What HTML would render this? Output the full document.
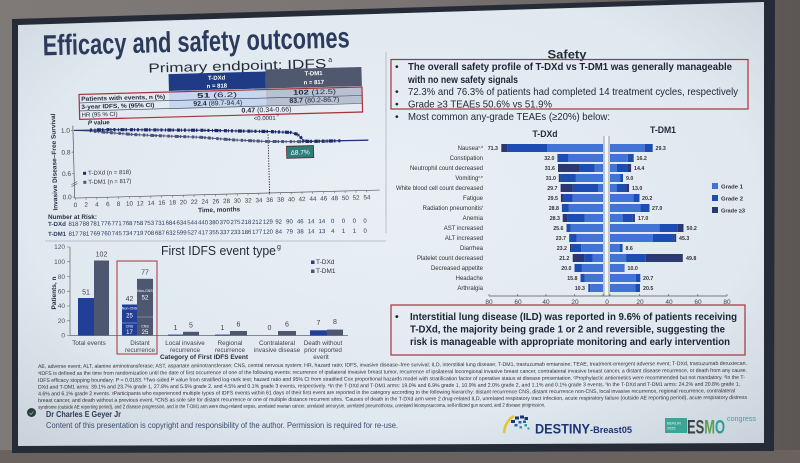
<!DOCTYPE html>
<html><head><meta charset="utf-8"><style>
html,body{margin:0;padding:0;width:800px;height:463px;overflow:hidden;background:#77716f;}
svg{display:block;font-family:"Liberation Sans",Arial,sans-serif;}
</style></head><body>
<svg width="800" height="463" viewBox="0 0 800 463" xmlns="http://www.w3.org/2000/svg">
<defs>
<radialGradient id="bg" cx="0.5" cy="0.45" r="0.75">
<stop offset="0" stop-color="#e9eff5"/><stop offset="0.65" stop-color="#e0e8f0"/><stop offset="1" stop-color="#c8d0d9"/>
</radialGradient>
<linearGradient id="wall" x1="0" y1="0" x2="1" y2="0"><stop offset="0" stop-color="#7f7977"/><stop offset="0.5" stop-color="#7a7473"/><stop offset="1" stop-color="#5c5654"/></linearGradient>
</defs>
<rect width="800" height="463" fill="url(#wall)"/>
<rect x="0" y="450" width="800" height="13" fill="#6a625e"/>
<polygon points="12,19 775,-3 774,451 12,453" fill="#262b38"/>
<polygon points="18,25 764,2 764,443 18,446" fill="url(#bg)"/>

<line x1="386" y1="52" x2="386" y2="233" stroke="#a9b2bc" stroke-width="0.8"/>
<line x1="45" y1="241" x2="386" y2="241" stroke="#a9b2bc" stroke-width="0.8"/>

<g transform="rotate(-1.5 210 130)">
<text x="45" y="51" font-size="29" font-weight="bold" fill="#2c3a5c" textLength="307" lengthAdjust="spacingAndGlyphs">Efficacy and safety outcomes</text>
<text x="150" y="71" font-size="13" fill="#262d3a" textLength="178" lengthAdjust="spacingAndGlyphs">Primary endpoint: IDFS</text>
<text x="330" y="65" font-size="7" fill="#262d3a">a</text>

<rect x="170" y="73" width="97" height="17" fill="#1f3b85"/>
<rect x="267" y="71" width="96" height="19" fill="#4f586f"/>
<rect x="170" y="90" width="97" height="18" fill="#c6d6ee"/>
<rect x="267" y="90" width="96" height="17" fill="#b7c1d2"/>
<g font-size="6" font-weight="bold" fill="#ffffff" text-anchor="middle">
<text x="218" y="80">T-DXd</text><text x="218" y="88">n = 818</text>
<text x="315" y="78">T-DM1</text><text x="315" y="87">n = 817</text>
</g>
<line x1="80" y1="99.5" x2="363" y2="99.5" stroke="#3a4050" stroke-width="0.6"/>
<line x1="80" y1="107.5" x2="363" y2="107.5" stroke="#3a4050" stroke-width="0.6"/>
<rect x="80" y="91" width="283" height="25" fill="none" stroke="#a8323c" stroke-width="1.2"/>
<g font-size="6" fill="#222a3a">
<text x="82" y="97.5" font-weight="bold" textLength="84" lengthAdjust="spacingAndGlyphs">Patients with events, n (%)</text>
<text x="82" y="105.5" font-weight="bold" textLength="73" lengthAdjust="spacingAndGlyphs">3-year IDFS, % (95% CI)</text>
<text x="82" y="113.5" textLength="36" lengthAdjust="spacingAndGlyphs">HR (95 % CI)</text>
</g>
<g font-size="6.8" fill="#222a3a">
<text x="198" y="97.5" textLength="40" lengthAdjust="spacingAndGlyphs"><tspan font-weight="bold">51</tspan> (6.2)</text>
<text x="294" y="97" textLength="43" lengthAdjust="spacingAndGlyphs"><tspan font-weight="bold">102</tspan> (12.5)</text>
<text x="194" y="105.5" textLength="49" lengthAdjust="spacingAndGlyphs"><tspan font-weight="bold">92.4</tspan> (89.7-94.4)</text>
<text x="290" y="105" textLength="50" lengthAdjust="spacingAndGlyphs"><tspan font-weight="bold">83.7</tspan> (80.2-86.7)</text>
<text x="242" y="113.5" textLength="50" lengthAdjust="spacingAndGlyphs"><tspan font-weight="bold">0.47</tspan> (0.34-0.66)</text>
</g>
<g font-size="6" fill="#222a3a">
<text x="88" y="121.5" font-weight="bold" textLength="22" lengthAdjust="spacingAndGlyphs"><tspan font-style="italic">P</tspan> value</text>
<text x="254" y="121.5" textLength="22" lengthAdjust="spacingAndGlyphs">&lt;0.0001</text>
<text x="277" y="118" font-size="4">b</text>
</g>

<line x1="73" y1="122" x2="73" y2="194.5" stroke="#555" stroke-width="0.7"/>
<line x1="73" y1="194.5" x2="378" y2="194.5" stroke="#555" stroke-width="0.7"/>
<g stroke="#555" stroke-width="0.6">
<line x1="71" y1="126.8" x2="73" y2="126.8"/><line x1="71" y1="148.5" x2="73" y2="148.5"/><line x1="71" y1="170" x2="73" y2="170"/><line x1="71" y1="193.5" x2="73" y2="193.5"/>
<line x1="70" y1="181" x2="76" y2="178"/><line x1="70" y1="183" x2="76" y2="180"/>
</g>
<g font-size="6.5" fill="#444" text-anchor="end">
<text x="70" y="129">1.0</text><text x="70" y="150.7">0.8</text><text x="70" y="172.2">0.6</text><text x="70" y="195.5">0.0</text>
</g>
<g stroke="#555" stroke-width="0.5">
<path d="M73.5,194.5v2M84.3,194.5v2M95.1,194.5v2M105.9,194.5v2M116.7,194.5v2M127.5,194.5v2M138.3,194.5v2M149.1,194.5v2M159.9,194.5v2M170.7,194.5v2M181.5,194.5v2M192.3,194.5v2M203.1,194.5v2M213.9,194.5v2M224.7,194.5v2M235.5,194.5v2M246.3,194.5v2M257.1,194.5v2M267.9,194.5v2M278.7,194.5v2M289.5,194.5v2M300.3,194.5v2M311.1,194.5v2M321.9,194.5v2M332.7,194.5v2M343.5,194.5v2M354.3,194.5v2M365.1,194.5v2"/>
</g>
<g font-size="6.3" fill="#444" text-anchor="middle">
<text x="73.5" y="203.5">0</text><text x="84.3" y="203.5">2</text><text x="95.1" y="203.5">4</text><text x="105.9" y="203.5">6</text><text x="116.7" y="203.5">8</text><text x="127.5" y="203.5">10</text><text x="138.3" y="203.5">12</text><text x="149.1" y="203.5">14</text><text x="159.9" y="203.5">16</text><text x="170.7" y="203.5">18</text><text x="181.5" y="203.5">20</text><text x="192.3" y="203.5">22</text><text x="203.1" y="203.5">24</text><text x="213.9" y="203.5">26</text><text x="224.7" y="203.5">28</text><text x="235.5" y="203.5">30</text><text x="246.3" y="203.5">32</text><text x="257.1" y="203.5">34</text><text x="267.9" y="203.5">36</text><text x="278.7" y="203.5">38</text><text x="289.5" y="203.5">40</text><text x="300.3" y="203.5">42</text><text x="311.1" y="203.5">44</text><text x="321.9" y="203.5">46</text><text x="332.7" y="203.5">48</text><text x="343.5" y="203.5">50</text><text x="354.3" y="203.5">52</text><text x="365.1" y="203.5">54</text>
</g>
<text x="217" y="212" font-size="6.5" font-weight="bold" fill="#2a3142" text-anchor="middle" textLength="42" lengthAdjust="spacingAndGlyphs">Time, months</text>
<text transform="translate(55.5 158) rotate(-90)" font-size="6.3" font-weight="bold" fill="#2a3142" text-anchor="middle" textLength="97" lengthAdjust="spacingAndGlyphs">Invasive Disease–Free Survival</text>

<line x1="267.9" y1="136" x2="267.9" y2="194.5" stroke="#222" stroke-width="0.9" stroke-dasharray="1.3 1.3"/>

<path d="M74,126.8 L90,127.8 L110,130 L133,132.5 L160,134.5 L200,137 L233,140.5 L267,143 L300,144 L368,144.5" fill="none" stroke="#4c5478" stroke-width="1"/>
<path d="M74,126.8 L110,127 L150,128.3 L200,130 L240,131.8 L267,133 L290,134.5 L297,136.5 L300,139 L303,143 L308,144 L368,144.2" fill="none" stroke="#1c2a6a" stroke-width="1"/>
<path d="M90,127.8 L110,130 L133,132.5 L160,134.5 L200,137 L233,140.5 L267,143 L300,144 L335,144.3" fill="none" stroke="#4c5478" stroke-width="3" stroke-dasharray="1 3 2.5 1.5 1 2.5 4 1 1.5 2 3 1.5"/>
<path d="M90,126.9 L110,127 L150,128.3 L200,130 L240,131.8 L267,133 L290,134.5 L297,136.5 L300,139 L303,143 L308,144 L340,144.2" fill="none" stroke="#1c2a6a" stroke-width="3.2" stroke-dasharray="2 2.5 1 1.5 4 1 1.5 3 3 1 1 2"/>

<rect x="286" y="148.3" width="27" height="12" fill="#2d7f7c" stroke="#5a2a2a" stroke-width="0.8"/>
<text x="299.5" y="156.8" font-size="6.5" fill="#ffffff" text-anchor="middle">Δ8.7%</text>

<rect x="82" y="168.5" width="3" height="3" fill="#1c2a6a"/>
<text x="87" y="171.8" font-size="6" fill="#333" textLength="43" lengthAdjust="spacingAndGlyphs">T-DXd (n = 818)</text>
<rect x="82" y="177.5" width="3" height="3" fill="#4c5478"/>
<text x="87" y="180.8" font-size="6" fill="#333" textLength="43" lengthAdjust="spacingAndGlyphs">T-DM1 (n = 817)</text>
</g>

<text x="48" y="219" font-size="6.5" font-weight="bold" fill="#2a3142" textLength="49" lengthAdjust="spacingAndGlyphs">Number at Risk:</text>
<g transform="rotate(-0.6 48 226)" font-size="6" fill="#2b3a5c">
<text x="48" y="226" font-weight="bold" textLength="18" lengthAdjust="spacingAndGlyphs">T-DXd</text>
<g text-anchor="middle">
<text x="73.5" y="226">818</text><text x="84.3" y="226">788</text><text x="95.1" y="226">781</text><text x="105.9" y="226">776</text><text x="116.7" y="226">771</text><text x="127.5" y="226">768</text><text x="138.3" y="226">758</text><text x="149.1" y="226">753</text><text x="159.9" y="226">731</text><text x="170.7" y="226">684</text><text x="181.5" y="226">634</text><text x="192.3" y="226">544</text><text x="203.1" y="226">440</text><text x="213.9" y="226">380</text><text x="224.7" y="226">370</text><text x="235.5" y="226">275</text><text x="246.3" y="226">218</text><text x="257.1" y="226">212</text><text x="267.9" y="226">129</text><text x="278.7" y="226">92</text><text x="289.5" y="226">90</text><text x="300.3" y="226">46</text><text x="311.1" y="226">14</text><text x="321.9" y="226">14</text><text x="332.7" y="226">0</text><text x="343.5" y="226">0</text><text x="354.3" y="226">0</text><text x="365.1" y="226">0</text>
</g>
<text x="48" y="236" font-weight="bold" textLength="18" lengthAdjust="spacingAndGlyphs">T-DM1</text>
<g text-anchor="middle">
<text x="73.5" y="236">817</text><text x="84.3" y="236">781</text><text x="95.1" y="236">769</text><text x="105.9" y="236">760</text><text x="116.7" y="236">745</text><text x="127.5" y="236">734</text><text x="138.3" y="236">719</text><text x="149.1" y="236">708</text><text x="159.9" y="236">687</text><text x="170.7" y="236">632</text><text x="181.5" y="236">599</text><text x="192.3" y="236">527</text><text x="203.1" y="236">417</text><text x="213.9" y="236">355</text><text x="224.7" y="236">337</text><text x="235.5" y="236">233</text><text x="246.3" y="236">186</text><text x="257.1" y="236">177</text><text x="267.9" y="236">120</text><text x="278.7" y="236">84</text><text x="289.5" y="236">79</text><text x="300.3" y="236">38</text><text x="311.1" y="236">14</text><text x="321.9" y="236">13</text><text x="332.7" y="236">4</text><text x="343.5" y="236">1</text><text x="354.3" y="236">1</text><text x="365.1" y="236">0</text>
</g>
</g>

<text x="161" y="255" font-size="13" fill="#262d3a" textLength="115" lengthAdjust="spacingAndGlyphs">First IDFS event type</text>
<text x="277" y="249" font-size="7" fill="#262d3a">g</text>
<line x1="70" y1="247" x2="70" y2="335.5" stroke="#666" stroke-width="0.7"/>
<line x1="70" y1="335.5" x2="348" y2="335.5" stroke="#666" stroke-width="0.7"/>
<g stroke="#666" stroke-width="0.6">
<path d="M67,247h3M67,261.8h3M67,276.5h3M67,291.2h3M67,306h3M67,320.8h3M67,335.5h3"/>
</g>
<g font-size="6.5" fill="#555" text-anchor="end">
<text x="65" y="249">120</text><text x="65" y="264">100</text><text x="65" y="279">80</text><text x="65" y="293.5">60</text><text x="65" y="308.2">40</text><text x="65" y="323">20</text><text x="65" y="337.5">0</text>
</g>
<text transform="translate(56 293) rotate(-90)" font-size="6.3" font-weight="bold" fill="#2a3142" text-anchor="middle" textLength="33" lengthAdjust="spacingAndGlyphs">Patients, n</text>

<g fill="#213f96">
<rect x="78" y="298" width="16" height="37.5"/>
<rect x="122" y="304.5" width="15" height="31"/>
<rect x="168" y="334.6" width="15" height="0.9"/>
<rect x="215" y="334.6" width="15" height="0.9"/>
<rect x="310" y="330.3" width="17" height="5.2"/>
</g>
<g fill="#4e5770">
<rect x="94" y="260.5" width="15" height="75"/>
<rect x="137" y="278.8" width="16" height="56.7"/>
<rect x="183" y="331.8" width="16" height="3.7"/>
<rect x="230" y="331" width="17" height="4.5"/>
<rect x="278" y="331" width="18" height="4.5"/>
<rect x="327" y="329.6" width="16" height="5.9"/>
</g>
<line x1="122" y1="323" x2="137" y2="323" stroke="#9fb3e0" stroke-width="0.6"/>
<line x1="137" y1="317" x2="153" y2="317" stroke="#9aa3b8" stroke-width="0.6"/>
<g fill="#ffffff" text-anchor="middle">
<text x="129.5" y="309.5" font-size="3.6">Non-CNS</text><text x="129.5" y="317.5" font-size="6">25</text>
<text x="129.5" y="327.5" font-size="3.6">CNS</text><text x="129.5" y="334" font-size="6">17</text>
<text x="145" y="292" font-size="3.6">Non-CNS</text><text x="145" y="299.5" font-size="6">52</text>
<text x="145" y="327.5" font-size="3.6">CNS</text><text x="145" y="334" font-size="6">25</text>
</g>
<rect x="117" y="261" width="40" height="93" fill="none" stroke="#a8323c" stroke-width="1"/>
<g font-size="7" fill="#444" text-anchor="middle">
<text x="86" y="294.5">51</text><text x="101.5" y="256.5">102</text>
<text x="129.5" y="301">42</text><text x="145" y="274.5">77</text>
<text x="175.5" y="330">1</text><text x="191" y="327.5">5</text>
<text x="222.5" y="330">1</text><text x="238.5" y="326.5">6</text>
<text x="269.5" y="330">0</text><text x="287" y="326.5">6</text>
<text x="318.5" y="325">7</text><text x="335" y="324">8</text>
</g>
<g font-size="6.3" fill="#444" text-anchor="middle">
<text x="89" y="345">Total events</text>
<text x="140" y="345">Distant</text><text x="140" y="352">recurrence</text>
<text x="185" y="345">Local invasive</text><text x="185" y="352">recurrence</text>
<text x="230" y="345">Regional</text><text x="230" y="352">recurrence</text>
<text x="277" y="345">Contralateral</text><text x="277" y="352">invasive disease</text>
<text x="323" y="345">Death without</text><text x="323" y="352">prior reported</text><text x="321" y="359">event</text>
</g>
<text x="326" y="356" font-size="3.5" fill="#444">i</text>
<text x="204" y="359" font-size="6.5" font-weight="bold" fill="#2a3142" text-anchor="middle" textLength="88" lengthAdjust="spacingAndGlyphs">Category of First IDFS Event</text>
<rect x="311" y="260.5" width="3.5" height="3.5" fill="#213f96"/>
<text x="316" y="264" font-size="6.5" fill="#333">T-DXd</text>
<rect x="311" y="269.5" width="3.5" height="3.5" fill="#4e5770"/>
<text x="316" y="273" font-size="6.5" fill="#333">T-DM1</text>

<text x="567" y="58.5" font-size="11.5" font-weight="bold" fill="#262d3a" text-anchor="middle" textLength="39" lengthAdjust="spacingAndGlyphs">Safety</text>
<rect x="391" y="59.5" width="357" height="49.5" fill="none" stroke="#a8323c" stroke-width="1.2"/>
<g font-size="10.5" fill="#1f2535">
<text x="395" y="70">•</text>
<text x="408" y="70" font-weight="bold" textLength="324" lengthAdjust="spacingAndGlyphs">The overall safety profile of T-DXd vs T-DM1 was generally manageable</text>
<text x="408" y="83" font-weight="bold" textLength="110" lengthAdjust="spacingAndGlyphs">with no new safety signals</text>
<text x="395" y="95">•</text>
<text x="408" y="95" textLength="330" lengthAdjust="spacingAndGlyphs">72.3% and 76.3% of patients had completed 14 treatment cycles, respectively</text>
<text x="395" y="107.5">•</text>
<text x="408" y="107.5" textLength="144" lengthAdjust="spacingAndGlyphs">Grade ≥3 TEAEs 50.6% vs 51.9%</text>
<text x="395" y="120">•</text>
<text x="408" y="120" textLength="202" lengthAdjust="spacingAndGlyphs">Most common any-grade TEAEs (≥20%) below:</text>
</g>
<text x="545" y="137" font-size="9" font-weight="bold" fill="#262d3a" text-anchor="middle" textLength="25" lengthAdjust="spacingAndGlyphs">T-DXd</text>
<text x="663" y="133" font-size="9" font-weight="bold" fill="#262d3a" text-anchor="middle" textLength="26" lengthAdjust="spacingAndGlyphs">T-DM1</text>

<rect x="603.5" y="136" width="6" height="160" fill="#f2f5f9"/>
<line x1="604" y1="136" x2="604" y2="296" stroke="#8a929c" stroke-width="0.9"/>
<line x1="609" y1="136" x2="609" y2="296" stroke="#8a929c" stroke-width="0.9"/>

<g fill="#4274d6">
<rect x="547.3" y="144" width="55.7" height="8"/><rect x="610" y="144" width="34.7" height="8"/>
<rect x="568.4" y="154" width="34.6" height="8"/><rect x="610" y="154" width="17.8" height="8"/>
<rect x="594.7" y="164" width="8.3" height="8"/><rect x="610" y="164" width="6.7" height="8"/>
<rect x="575.9" y="174" width="27.1" height="8"/><rect x="610" y="174" width="10.1" height="8"/>
<rect x="598" y="184" width="5" height="8"/><rect x="610" y="184" width="6.6" height="8"/>
<rect x="572.6" y="194" width="30.4" height="8"/><rect x="610" y="194" width="23.4" height="8"/>
<rect x="568.5" y="204" width="34.5" height="8"/><rect x="610" y="204" width="30.4" height="8"/>
<rect x="584.8" y="214" width="18.2" height="8"/><rect x="610" y="214" width="13" height="8"/>
<rect x="570.8" y="224" width="32.2" height="8"/><rect x="610" y="224" width="49.6" height="8"/>
<rect x="576.6" y="234" width="26.4" height="8"/><rect x="610" y="234" width="43" height="8"/>
<rect x="581.1" y="244" width="21.9" height="8"/><rect x="610" y="244" width="9.7" height="8"/>
<rect x="592.7" y="254" width="10.3" height="8"/><rect x="610" y="254" width="16.1" height="8"/>
<rect x="581.9" y="264" width="21.1" height="8"/><rect x="610" y="264" width="14.6" height="8"/>
<rect x="584.8" y="274" width="18.2" height="8"/><rect x="610" y="274" width="25.9" height="8"/>
<rect x="590.2" y="284" width="12.8" height="8"/><rect x="610" y="284" width="25.3" height="8"/>
</g>
<g fill="#1d4db3">
<rect x="507.7" y="144" width="39.6" height="8"/><rect x="644.7" y="144" width="8" height="8"/>
<rect x="557.4" y="154" width="11" height="8"/><rect x="627.8" y="154" width="5.9" height="8"/>
<rect x="579.9" y="164" width="14.8" height="8"/><rect x="616.7" y="164" width="10.7" height="8"/>
<rect x="560.4" y="174" width="15.5" height="8"/><rect x="620.1" y="174" width="2.9" height="8"/>
<rect x="572.6" y="184" width="25.4" height="8"/><rect x="616.6" y="184" width="9.5" height="8"/>
<rect x="563.8" y="194" width="8.8" height="8"/><rect x="633.4" y="194" width="6.1" height="8"/>
<rect x="561.9" y="204" width="6.6" height="8"/><rect x="640.4" y="204" width="9.1" height="8"/>
<rect x="567.8" y="214" width="17" height="8"/><rect x="623" y="214" width="9.7" height="8"/>
<rect x="566.5" y="224" width="4.3" height="8"/><rect x="659.6" y="224" width="18.3" height="8"/>
<rect x="569.2" y="234" width="7.4" height="8"/><rect x="653" y="234" width="21.2" height="8"/>
<rect x="571.7" y="244" width="9.4" height="8"/><rect x="619.7" y="244" width="2.9" height="8"/>
<rect x="584.1" y="254" width="8.6" height="8"/><rect x="626.1" y="254" width="19.7" height="8"/>
<rect x="574.5" y="264" width="7.4" height="8"/>
<rect x="580.5" y="274" width="4.3" height="8"/><rect x="635.9" y="274" width="4.4" height="8"/>
<rect x="588.3" y="284" width="1.9" height="8"/><rect x="635.3" y="284" width="4.7" height="8"/>
</g>
<g fill="#2c3870">
<rect x="501.3" y="144" width="6.4" height="8"/>
<rect x="558" y="164" width="21.9" height="8"/><rect x="627.4" y="164" width="3.7" height="8"/>
<rect x="558.8" y="174" width="1.6" height="8"/>
<rect x="560.6" y="184" width="12" height="8"/><rect x="626.1" y="184" width="2.9" height="8"/>
<rect x="560.9" y="194" width="2.9" height="8"/>
<rect x="562.7" y="214" width="5.1" height="8"/><rect x="632.7" y="214" width="2.2" height="8"/>
<rect x="677.9" y="224" width="5.6" height="8"/>
<rect x="674.2" y="234" width="2" height="8"/>
<rect x="570" y="244" width="1.7" height="8"/>
<rect x="572.7" y="254" width="11.4" height="8"/><rect x="645.8" y="254" width="37" height="8"/>
</g>
<g font-size="6" fill="#333" text-anchor="end">
<text x="483" y="150">Nausea<tspan font-size="3.5" dy="-2">c,d</tspan></text>
<text x="483" y="160">Constipation</text>
<text x="483" y="170" textLength="73" lengthAdjust="spacingAndGlyphs">Neutrophil count decreased</text>
<text x="483" y="180">Vomiting<tspan font-size="3.5" dy="-2">c,e</tspan></text>
<text x="483" y="190" textLength="87" lengthAdjust="spacingAndGlyphs">White blood cell count decreased</text>
<text x="483" y="200">Fatigue</text>
<text x="483" y="210">Radiation pneumonitis<tspan font-size="3.5" dy="-2">f</tspan></text>
<text x="483" y="220">Anemia</text>
<text x="483" y="230">AST increased</text>
<text x="483" y="240">ALT increased</text>
<text x="483" y="250">Diarrhea</text>
<text x="483" y="260">Platelet count decreased</text>
<text x="483" y="270">Decreased appetite</text>
<text x="483" y="280">Headache</text>
<text x="483" y="290">Arthralgia</text>
</g>
<g font-size="5.3" font-weight="bold" fill="#333" text-anchor="end">
<text x="498" y="150">71.3</text><text x="554.5" y="160">32.0</text><text x="555" y="170">31.6</text><text x="556" y="180">31.0</text><text x="557.5" y="190">29.7</text><text x="558" y="200">29.5</text><text x="559" y="210">28.8</text><text x="560" y="220">28.3</text><text x="563.5" y="230">25.6</text><text x="566" y="240">23.7</text><text x="567" y="250">23.2</text><text x="569.5" y="260">21.2</text><text x="571.5" y="270">20.0</text><text x="577.5" y="280">15.8</text><text x="585" y="290">10.3</text>
</g>
<g font-size="5.3" font-weight="bold" fill="#333">
<text x="655.5" y="150">29.3</text><text x="636.5" y="160">16.2</text><text x="634" y="170">14.4</text><text x="626" y="180">9.0</text><text x="632" y="190">13.0</text><text x="642" y="200">20.2</text><text x="652" y="210">27.0</text><text x="638" y="220">17.0</text><text x="686.5" y="230">50.2</text><text x="679" y="240">45.3</text><text x="625.5" y="250">8.6</text><text x="686" y="260">49.8</text><text x="627.5" y="270">10.0</text><text x="643" y="280">20.7</text><text x="643" y="290">20.5</text>
</g>
<line x1="489" y1="296" x2="727" y2="296" stroke="#555" stroke-width="0.7"/>
<path d="M489,296v-2M517.5,296v-2M546,296v-2M574.5,296v-2M603,296v-2M610,296v-2M639.3,296v-2M668.5,296v-2M697.8,296v-2M727,296v-2" stroke="#555" stroke-width="0.6"/>
<g font-size="6.5" fill="#444" text-anchor="middle">
<text x="489" y="304">80</text><text x="518" y="304">60</text><text x="546" y="304">40</text><text x="575" y="304">20</text><text x="607" y="304">0</text><text x="640" y="304">20</text><text x="669" y="304">40</text><text x="698" y="304">60</text><text x="727" y="304">80</text>
</g>
<rect x="712" y="183" width="6" height="6" fill="#4274d6"/>
<text x="721" y="188.5" font-size="5.5" font-weight="bold" fill="#333" textLength="22" lengthAdjust="spacingAndGlyphs">Grade 1</text>
<rect x="712" y="195" width="6" height="6" fill="#1d4db3"/>
<text x="721" y="200.5" font-size="5.5" font-weight="bold" fill="#333" textLength="22" lengthAdjust="spacingAndGlyphs">Grade 2</text>
<rect x="712" y="207" width="6" height="6" fill="#2c3870"/>
<text x="721" y="212.5" font-size="5.5" font-weight="bold" fill="#333" textLength="24" lengthAdjust="spacingAndGlyphs">Grade ≥3</text>

<rect x="391" y="305" width="354" height="50" fill="none" stroke="#a8323c" stroke-width="1.2"/>
<g font-size="10.5" font-weight="bold" fill="#1b2336">
<text x="395" y="320">•</text>
<text x="410" y="320" textLength="327" lengthAdjust="spacingAndGlyphs">Interstitial lung disease (ILD) was reported in 9.6% of patients receiving</text>
<text x="410" y="332.5" textLength="315" lengthAdjust="spacingAndGlyphs">T-DXd, the majority being grade 1 or 2 and reversible, suggesting the</text>
<text x="410" y="345" textLength="320" lengthAdjust="spacingAndGlyphs">risk is manageable with appropriate monitoring and early intervention</text>
</g>

<g transform="rotate(-0.25 38 380)" font-size="5.3" fill="#333">
<text x="38" y="368" textLength="709" lengthAdjust="spacingAndGlyphs">AE, adverse event; ALT, alanine aminotransferase; AST, aspartate aminotransferase; CNS, central nervous system; HR, hazard ratio; IDFS, invasive disease–free survival; ILD, interstitial lung disease; T-DM1, trastuzumab emtansine; TEAE, treatment-emergent adverse event; T-DXd, trastuzumab deruxtecan.</text>
<text x="38" y="375" textLength="709" lengthAdjust="spacingAndGlyphs">ᵃIDFS is defined as the time from randomization until the date of first occurrence of one of the following events: recurrence of ipsilateral invasive breast tumor, recurrence of ipsilateral locoregional invasive breast cancer, contralateral invasive breast cancer, a distant disease recurrence, or death from any cause.</text>
<text x="38" y="382" textLength="707" lengthAdjust="spacingAndGlyphs">IDFS efficacy stopping boundary: P = 0.0183. ᵇTwo-sided P value from stratified log-rank test; hazard ratio and 95% CI from stratified Cox proportional hazards model with stratification factor of operative status at disease presentation. ᶜProphylactic antiemetics were recommended but not mandatory. ᵈIn the T-</text>
<text x="38" y="388.7" textLength="702" lengthAdjust="spacingAndGlyphs">DXd and T-DM1 arms: 39.1% and 23.7% grade 1, 27.8% and 5.5% grade 2, and 4.5% and 0.1% grade 3 events, respectively. ᵉIn the T-DXd and T-DM1 arms: 19.0% and 6.9% grade 1, 10.9% and 2.0% grade 2, and 1.1% and 0.1% grade 3 events. ᶠIn the T-DXd and T-DM1 arms: 24.2% and 20.8% grade 1,</text>
<text x="38" y="395.4" textLength="697" lengthAdjust="spacingAndGlyphs">4.6% and 6.1% grade 2 events. ᵍParticipants who experienced multiple types of IDFS events within 61 days of their first event are reported in the category according to the following hierarchy: distant recurrence CNS, distant recurrence non-CNS, local invasive recurrence, regional recurrence, contralateral</text>
<text x="38" y="402.1" textLength="709" lengthAdjust="spacingAndGlyphs">breast cancer, and death without a previous event. ʰCNS as sole site for distant recurrence or one of multiple distance recurrent sites. ⁱCauses of death in the T-DXd arm were 2 drug-related ILD, unrelated respiratory tract infection, acute respiratory failure (outside AE reporting period), acute respiratory distress</text>
<text x="38" y="408.8" textLength="507" lengthAdjust="spacingAndGlyphs">syndrome (outside AE reporting period), and 2 disease progression, and in the T-DM1 arm were drug-related sepsis, unrelated ovarian cancer, unrelated aneurysm, unrelated pneumothorax, unrelated leiomyosarcoma, self-inflicted gun wound, and 2 disease progression.</text>
</g>

<circle cx="31.5" cy="412.5" r="4.5" fill="#2d3a40"/>
<path d="M29.5,413 l1.5,1.5 l2.5,-3" stroke="#5fbf8a" stroke-width="0.9" fill="none"/>
<text x="46" y="417" font-size="8.5" font-weight="bold" fill="#2b3a55" textLength="75" lengthAdjust="spacingAndGlyphs">Dr Charles E Geyer Jr</text>
<text x="46" y="428" font-size="8.5" fill="#3c4e6e" textLength="352" lengthAdjust="spacingAndGlyphs">Content of this presentation is copyright and responsibility of the author. Permission is required for re-use.</text>

<path d="M504,433 Q505,421 514,416" stroke="#e6c62e" stroke-width="2.6" fill="none"/>
<g fill="#1e3575">
<rect x="511" y="420" width="4" height="3"/><rect x="515" y="416.5" width="4" height="3"/><rect x="520" y="415.5" width="4" height="3"/><rect x="524.5" y="417" width="3.5" height="3"/>
</g>
<g fill="#2a5fb0">
<rect x="514.5" y="424" width="3" height="2.5"/><rect x="518.5" y="421" width="3" height="2.5"/><rect x="523" y="420.5" width="3" height="2.5"/>
</g>
<g fill="#2aa0a0">
<rect x="519.5" y="426" width="2.5" height="2.5"/><rect x="524.5" y="424" width="2.5" height="2.5"/><rect x="527.5" y="427.5" width="2" height="2"/>
</g>
<text x="535" y="433.5" font-size="14" font-weight="bold" fill="#1e3575" textLength="55" lengthAdjust="spacingAndGlyphs">DESTINY</text>
<text x="590" y="433" font-size="9" font-weight="bold" fill="#1e3575" textLength="42" lengthAdjust="spacingAndGlyphs">-Breast05</text>

<rect x="665" y="418" width="22" height="15" fill="#3ba596"/>
<text x="667" y="424.5" font-size="3.8" fill="#eafff8">BERLIN</text>
<text x="667" y="429.5" font-size="3.8" fill="#eafff8">2025</text>
<text x="687" y="433.5" font-size="19" font-weight="bold" textLength="38" lengthAdjust="spacingAndGlyphs"><tspan fill="#3d4048">E</tspan><tspan fill="#3d4a48">S</tspan><tspan fill="#5a9e4f">M</tspan><tspan fill="#2a9e9a">O</tspan></text>
<text x="727" y="421" font-size="7.5" fill="#38a3a5" textLength="29" lengthAdjust="spacingAndGlyphs">congress</text>
</svg>
</body></html>
